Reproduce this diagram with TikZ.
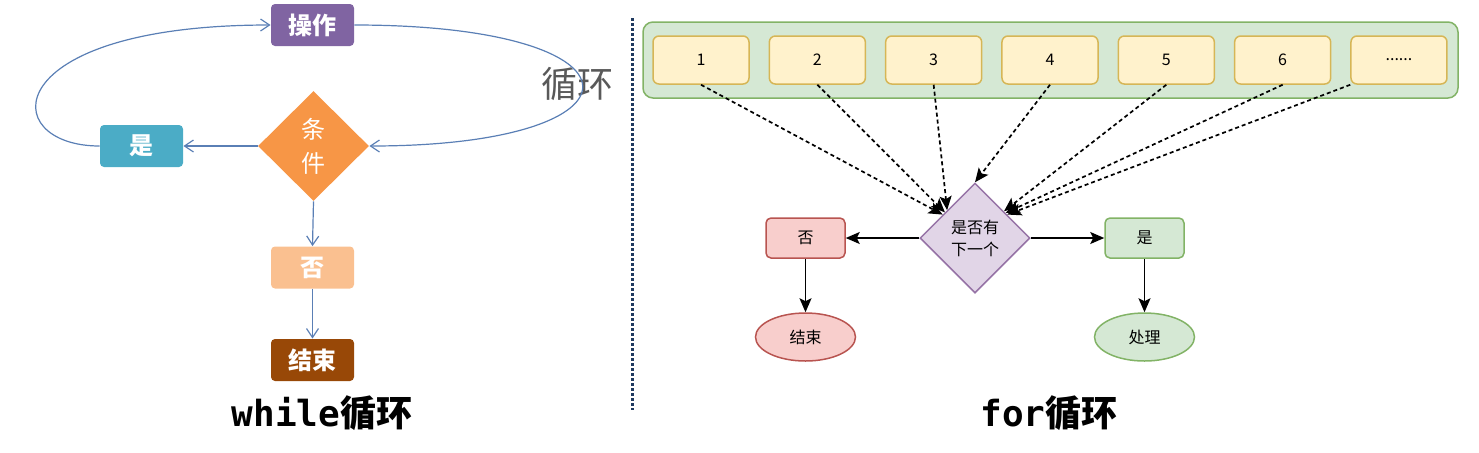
\documentclass[tikz,border=0pt]{standalone}
\usepackage{fontspec}
\setmonofont{DejaVu Sans Mono}
\newfontfamily\cjk{Noto Sans CJK SC}
\usetikzlibrary{shapes.geometric,arrows.meta,calc}

\definecolor{opviolet}{HTML}{8064A2}
\definecolor{yesblue}{HTML}{4BACC6}
\definecolor{condorange}{HTML}{F79646}
\definecolor{nopeach}{HTML}{FAC090}
\definecolor{endbrown}{HTML}{984807}
\definecolor{loopblue}{HTML}{5A7FB5}
\definecolor{sepnavy}{HTML}{1F3A60}
\definecolor{poolfill}{HTML}{D5E8D4}
\definecolor{poolline}{HTML}{82B366}
\definecolor{itemfill}{HTML}{FFF2CC}
\definecolor{itemline}{HTML}{D6B656}
\definecolor{askfill}{HTML}{E1D5E7}
\definecolor{askline}{HTML}{9673A6}
\definecolor{redfill}{HTML}{F8CECC}
\definecolor{redline}{HTML}{B85450}

\newcommand\itemdots{......}

\tikzset{
  wbox/.style={rectangle, rounded corners=2pt, minimum width=41.5pt,
    minimum height=21pt, inner sep=0pt, text=white,
    font=\cjk\bfseries\fontsize{12}{14}\selectfont},
  wline/.style={draw=loopblue, line width=0.6pt,
    -{Straight Barb[length=4.5pt,width=6pt]}},
  item/.style={rectangle, rounded corners=3pt, minimum width=48pt,
    minimum height=24pt, fill=itemfill, draw=itemline, line width=0.75pt,
    font=\cjk\fontsize{8}{10}\selectfont},
  fbox/.style={rectangle, rounded corners=2.5pt, minimum width=39.5pt,
    minimum height=20pt, line width=0.75pt, font=\cjk\fontsize{8}{10}\selectfont},
  fend/.style={ellipse, minimum width=50pt, minimum height=24pt,
    line width=0.75pt, font=\cjk\fontsize{8}{10}\selectfont},
  fline/.style={line width=0.75pt, -{Stealth[length=7pt,width=6pt,inset=1.5pt]}},
  pick/.style={line width=0.85pt, dash pattern=on 2pt off 1.5pt,
    -{Stealth[length=7pt,width=6pt,inset=1.5pt]}},
  title/.style={font=\fontsize{18}{20}\selectfont\bfseries}
}

\begin{document}
\begin{tikzpicture}[x=0.5pt,y=-0.5pt]
\useasboundingbox (0,0) rectangle (1479,452);

% while
\node[wbox, fill=opviolet] (op) at (312.5,25) {操作};
\node[diamond, minimum width=55.5pt, minimum height=55pt, inner sep=0pt,
  fill=condorange, text=white, align=center,
  font=\cjk\fontsize{12}{17}\selectfont] (cond) at (313.5,146) {条\\件};
\node[wbox, fill=yesblue] (yes) at (141.5,146) {是};
\node[wbox, fill=nopeach] (no) at (312.5,267.5) {否};
\node[wbox, fill=endbrown] (stop) at (312.5,360) {结束};
\node[text=black!65, font=\cjk\fontsize{18}{20}\selectfont] (looptext) at (577,84) {循环};

\draw[wline] (op.east) .. controls (656,25) and (656,146) .. (cond.east);
\draw[wline] (yes.west) .. controls (-4,146) and (-4,25) .. (op.west);
\draw[wline] (cond.west) -- (yes.east);
\draw[wline] (cond.south) -- (no.north);
\draw[wline] (no.south) -- (stop.north);

\node[title] (whiletitle) at (322,413) {\ttfamily while\cjk 循环};

% separator
\coordinate (septop) at (632,18);
\coordinate (sepbot) at (632,410);
\draw[sepnavy, line width=1.5pt, dash pattern=on 1.3pt off 1.2pt] (septop) -- (sepbot);

% for
\node[rectangle, rounded corners=5pt, minimum width=407.5pt, minimum height=38pt,
  fill=poolfill, draw=poolline, line width=0.75pt] (pool) at (1050.5,60) {};
\foreach \lbl [count=\i] in {1,2,3,4,5,6,\itemdots}
  \node[item] (b\i) at ({701+(\i-1)*116.33},60) {\lbl};

\node[diamond, minimum width=55pt, minimum height=55pt, inner sep=0pt,
  fill=askfill, draw=askline, line width=0.75pt, align=center,
  font=\cjk\fontsize{8}{11}\selectfont] (ask) at (975,238) {是否有\\下一个};
\node[fbox, fill=redfill, draw=redline] (nope) at (805.5,238) {否};
\node[fbox, fill=poolfill, draw=poolline] (yep) at (1144.5,238) {是};
\node[fend, fill=redfill, draw=redline] (done) at (805.5,337) {结束};
\node[fend, fill=poolfill, draw=poolline] (work) at (1144.5,337) {处理};

\draw[pick] (b1.south) -- ($(ask.north)!0.58!(ask.west)$);
\draw[pick] (b2.south) -- ($(ask.north)!0.54!(ask.west)$);
\draw[pick] (b3.south) -- ($(ask.north)!0.5!(ask.west)$);
\draw[pick] (b4.south) -- (ask.north);
\draw[pick] (b5.south) -- ($(ask.north)!0.52!(ask.east)$);
\draw[pick] (b6.south) -- ($(ask.north)!0.55!(ask.east)$);
\draw[pick] (b7.south west) -- ($(ask.north)!0.58!(ask.east)$);

\draw[fline] (ask.west) -- (nope.east);
\draw[fline] (ask.east) -- (yep.west);
\draw[fline] (nope.south) -- (done.north);
\draw[fline] (yep.south) -- (work.north);

\node[title] (fortitle) at (1049,413) {\ttfamily for\cjk 循环};
\end{tikzpicture}
\end{document}
